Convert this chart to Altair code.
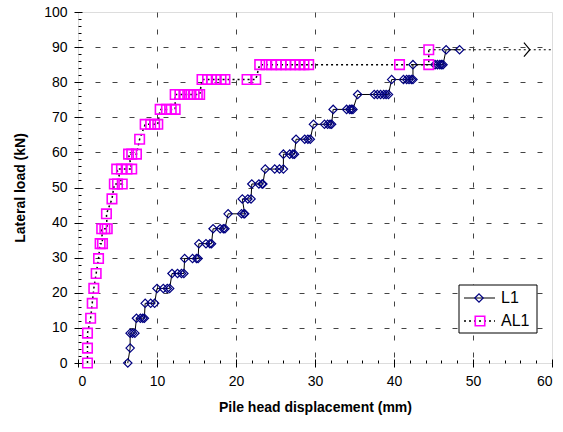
import altair as alt
import pandas as pd

# load steps (kN)
load_levels = [0, 4.25, 8.5, 12.75, 17, 21.25, 25.5, 29.75, 34, 38.25, 42.5,
               46.75, 51, 55.25, 59.5, 63.75, 68, 72.25, 76.5, 80.75, 85, 89.25]

# L1: displacement readings (mm) at each load step
l1_readings = [
    [6.3], [6.6], [6.6, 6.9, 7.2], [7.4, 7.9, 8.2, 8.4], [8.5, 9.2, 9.7],
    [10.0, 10.8, 11.3, 11.6], [11.9, 12.6, 13.1, 13.4], [13.5, 14.5, 15.0, 15.2],
    [15.3, 16.2, 16.7, 16.9], [17.1, 18.0, 18.4, 18.6], [19.0, 20.7, 21.0, 21.1],
    [20.8, 21.5, 21.9], [22.0, 22.9, 23.3, 23.4], [23.7, 24.9, 25.5, 26.0],
    [26.0, 26.8, 27.2, 27.4], [27.6, 28.7, 29.1, 29.4], [29.8, 31.2, 31.6, 31.9, 32.1],
    [32.3, 34.0, 34.4, 34.6, 34.8], [35.4, 37.5, 37.9, 38.3, 38.7, 39.0, 39.3],
    [39.7, 41.2, 41.6, 41.9, 42.2, 42.4], [42.4, 45.2, 45.5, 45.8, 46.0, 46.2],
    [46.6, 48.3],
]

# AL1: displacement readings (mm) at each load step
al1_readings = [
    [1.2], [1.2], [1.2], [1.6], [1.8], [2.0], [2.3], [2.6], [2.8, 3.1],
    [3.0, 3.4, 3.7], [3.6], [4.3], [4.6, 5.0, 5.6], [4.9, 5.5, 6.2, 6.8],
    [6.4, 6.8, 7.4], [7.8], [8.5, 9.2, 9.7, 10.1], [10.4, 11.2, 11.8, 12.3],
    [12.3, 12.9, 13.4, 13.9, 14.3, 14.7, 15.1, 15.4],
    [15.7, 16.4, 16.9, 17.5, 18.1, 18.6, 21.4, 22.5],
    [23.0, 23.8, 24.5, 25.1, 25.7, 26.3, 26.9, 27.5, 28.1, 28.6, 29.2, 40.7, 44.4],
    [44.4],
]

# AL1 beyond the last reading (off-scale, arrow)
ext_disp = [44.4, 60]
ext_load = [89.25, 89.25]
arrow_disp = [57.2]
arrow_load = [89.25]

x_ticks = [0, 10, 20, 30, 40, 50, 60]
y_ticks = [0, 10, 20, 30, 40, 50, 60, 70, 80, 90, 100]
x_grid = [10, 20, 30, 40, 50]
y_grid = [10, 20, 30, 40, 50, 60, 70, 80, 90]
x_minor = [2, 4, 6, 8, 12, 14, 16, 18, 22, 24, 26, 28, 32, 34, 36, 38, 42, 44, 46, 48, 52, 54, 56, 58]
y_minor = [v for v in range(2, 100, 2) if v % 10 != 0]


def to_frame(readings):
    rows = []
    i = 0
    for lvl, vals in zip(load_levels, readings):
        for v in vals:
            rows.append({"disp": v, "load": lvl, "order": i})
            i += 1
    return pd.DataFrame(rows)


l1 = to_frame(l1_readings)
al1 = to_frame(al1_readings)
ext = pd.DataFrame({"disp": ext_disp, "load": ext_load})
arrow = pd.DataFrame({"disp": arrow_disp, "load": arrow_load})

FONT = "Liberation Sans"
xs = alt.Scale(domain=[0, 60], nice=False, zero=False)
ys = alt.Scale(domain=[0, 100], nice=False, zero=False)

grid_x = alt.Axis(orient="bottom", values=x_grid, grid=True, gridDash=[5, 12], gridColor="#444",
                  gridWidth=1, ticks=False, labels=False, domain=False, title=None)
grid_y = alt.Axis(orient="left", values=y_grid, grid=True, gridDash=[5, 12], gridColor="#444",
                  gridWidth=1, ticks=False, labels=False, domain=False, title=None)

major_x = alt.Axis(orient="bottom", values=x_ticks, offset=-4, tickSize=8, tickColor="black",
                   tickWidth=1, domain=False, grid=False, labelFont=FONT, labelFontSize=14,
                   labelColor="black", labelPadding=7, title="Pile head displacement (mm)",
                   titleFont=FONT, titleFontSize=14, titleFontWeight="bold", titleColor="black",
                   titlePadding=12)
major_y = alt.Axis(orient="left", values=y_ticks, offset=-4, tickSize=8, tickColor="black",
                   tickWidth=1, domain=False, grid=False, labelFont=FONT, labelFontSize=14,
                   labelColor="black", labelPadding=7, title="Lateral load (kN)",
                   titleFont=FONT, titleFontSize=14, titleFontWeight="bold", titleColor="black",
                   titlePadding=16)
minor_x = alt.Axis(orient="bottom", values=x_minor, offset=-3, tickSize=3, tickColor="black",
                   tickWidth=1, domain=False, grid=False, labels=False, title=None)
minor_y = alt.Axis(orient="left", values=y_minor, offset=-3, tickSize=3, tickColor="black",
                   tickWidth=1, domain=False, grid=False, labels=False, title=None)

l1_line = alt.Chart(l1).mark_line(color="black", strokeWidth=1).encode(
    x=alt.X("disp:Q", scale=xs, axis=grid_x),
    y=alt.Y("load:Q", scale=ys, axis=grid_y),
    order="order:Q",
)
l1_pts = alt.Chart(l1).mark_point(shape="diamond", size=70, filled=False, color="#000080",
                                  strokeWidth=1.2, opacity=1).encode(
    x=alt.X("disp:Q", scale=xs, axis=major_x),
    y=alt.Y("load:Q", scale=ys, axis=major_y),
)
al1_line = alt.Chart(al1).mark_line(color="black", strokeWidth=1.5, strokeDash=[2, 3]).encode(
    x=alt.X("disp:Q", scale=xs, axis=minor_x),
    y=alt.Y("load:Q", scale=ys, axis=minor_y),
    order="order:Q",
)
al1_pts = alt.Chart(al1).mark_point(shape="square", size=90, filled=False, color="#FF00FF",
                                    strokeWidth=1.6, opacity=1).encode(
    x=alt.X("disp:Q", scale=xs, axis=None),
    y=alt.Y("load:Q", scale=ys, axis=None),
)
ext_line = alt.Chart(ext).mark_line(color="black", strokeWidth=1.2, strokeDash=[2, 3]).encode(
    x=alt.X("disp:Q", scale=xs, axis=None),
    y=alt.Y("load:Q", scale=ys, axis=None),
)
arrow_mark = alt.Chart(arrow).mark_point(shape="M-0.85,-1L0,0L-0.85,1", size=196, filled=False,
                                         color="black", strokeWidth=1.2, opacity=1).encode(
    x=alt.X("disp:Q", scale=xs, axis=None),
    y=alt.Y("load:Q", scale=ys, axis=None),
)

# legend (drawn in plot pixel space)
leg = pd.DataFrame({"name": ["L1"]})
leg_box = alt.Chart(leg).mark_rect(fill="white", stroke="black", strokeWidth=1).encode(
    x=alt.value(381), x2=alt.value(459), y=alt.value(273), y2=alt.value(321))
leg_l1_line = alt.Chart(leg).mark_rule(color="black", strokeWidth=1).encode(
    x=alt.value(386), x2=alt.value(417), y=alt.value(286))
leg_l1_pt = alt.Chart(leg).mark_point(shape="diamond", size=70, filled=False, color="#000080",
                                      strokeWidth=1.2, opacity=1).encode(
    x=alt.value(401), y=alt.value(286))
leg_l1_txt = alt.Chart(pd.DataFrame({"name": ["L1"]})).mark_text(
    align="left", baseline="middle", font=FONT, fontSize=16, color="black").encode(
    x=alt.value(423), y=alt.value(286), text="name:N")
leg_al1_line = alt.Chart(leg).mark_rule(color="black", strokeWidth=1.5, strokeDash=[2, 3]).encode(
    x=alt.value(386), x2=alt.value(417), y=alt.value(309))
leg_al1_pt = alt.Chart(leg).mark_point(shape="square", size=90, filled=False, color="#FF00FF",
                                       strokeWidth=1.6, opacity=1).encode(
    x=alt.value(402), y=alt.value(309))
leg_al1_txt = alt.Chart(pd.DataFrame({"name": ["AL1"]})).mark_text(
    align="left", baseline="middle", font=FONT, fontSize=16, color="black").encode(
    x=alt.value(423), y=alt.value(309), text="name:N")

chart = alt.layer(
    l1_line, l1_pts, al1_line, al1_pts, ext_line, arrow_mark,
    leg_box, leg_l1_line, leg_l1_pt, leg_l1_txt, leg_al1_line, leg_al1_pt, leg_al1_txt,
).resolve_axis(x="independent", y="independent").properties(
    width=474, height=351,
    padding={"left": 78, "top": 12, "right": 11, "bottom": 69},
    autosize=alt.AutoSizeParams(type="none"),
).configure_view(stroke="black", strokeWidth=2).configure(background="white")

chart.save("out.html", embed_options={"renderer": "svg", "actions": False})
